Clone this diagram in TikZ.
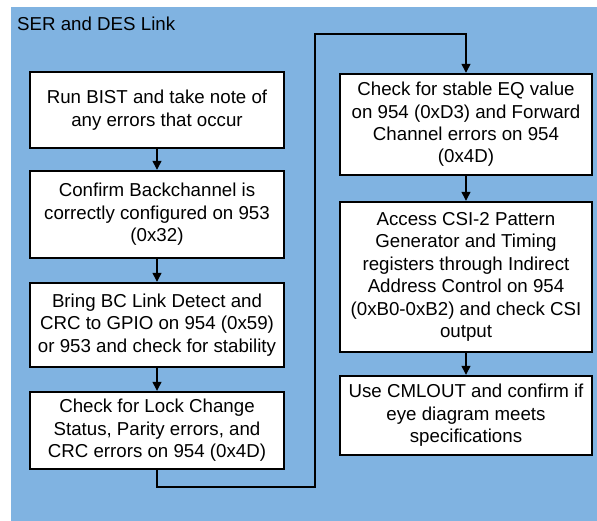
\documentclass[tikz,border=0pt]{standalone}
\usepackage{fontspec}
\setmainfont{Liberation Sans}
\usepackage{xcolor}
\usetikzlibrary{arrows.meta, calc}
\definecolor{linkblue}{RGB}{128,179,225}

\begin{document}
\begin{tikzpicture}[
  x=1pt, y=-1pt,
  font=\fontsize{18.7}{22.4}\selectfont,
  stepbox/.style={
    draw, line width=2.4pt, fill=white,
    minimum width=254pt, align=center, inner sep=0pt
  },
  arr/.style={-{Triangle[length=9pt,width=9pt]}, line width=1.3pt},
]
\useasboundingbox (0,0) rectangle (597,521);
\fill[linkblue] (11,7) rectangle (597,521);

%% Title
\node[anchor=base west, inner sep=0pt] (title) at (17,31) {SER and DES Link};

%% Left column (x = 157)
\node[stepbox, minimum height=76pt] (bist) at (157,110)
  {Run BIST and take note of\\any errors that occur};
\node[stepbox, minimum height=87pt] (backch) at (157,214.5)
  {Confirm Backchannel is\\correctly configured on 953\\(0x32)};
\node[stepbox, minimum height=84pt] (bclink) at (157,325)
  {Bring BC Link Detect and\\CRC to GPIO on 954 (0x59)\\or 953 and check for stability};
\node[stepbox, minimum height=77pt] (lock) at (157,430.5)
  {Check for Lock Change\\Status, Parity errors, and\\CRC errors on 954 (0x4D)};

%% Right column (x = 466)
\node[stepbox, minimum width=252pt, minimum height=101pt] (eq) at (466,124.5)
  {Check for stable EQ value\\on 954 (0xD3) and Forward\\Channel errors on 954\\(0x4D)};
\node[stepbox, minimum width=252pt, minimum height=150pt] (csi) at (466,277)
  {Access CSI-2 Pattern\\Generator and Timing\\registers through Indirect\\Address Control on 954\\(0xB0-0xB2) and check CSI\\output};
\node[stepbox, minimum width=252pt, minimum height=79pt] (cml) at (466,415.5)
  {Use CMLOUT and confirm if\\eye diagram meets\\specifications};

%% Arrows: left column
\draw[arr] (bist)   -- (backch);
\draw[arr] (backch) -- (bclink);
\draw[arr] (bclink) -- (lock);

%% Route lock -> eq around the bottom and over the top
\coordinate (lowturn)  at (315,487);
\coordinate (highturn) at (315,34);
\draw[arr] (lock.south) |- (lowturn) -- (highturn) -| (eq.north);

%% Arrows: right column
\draw[arr] (eq)  -- (csi);
\draw[arr] (csi) -- (cml);
\end{tikzpicture}
\end{document}
